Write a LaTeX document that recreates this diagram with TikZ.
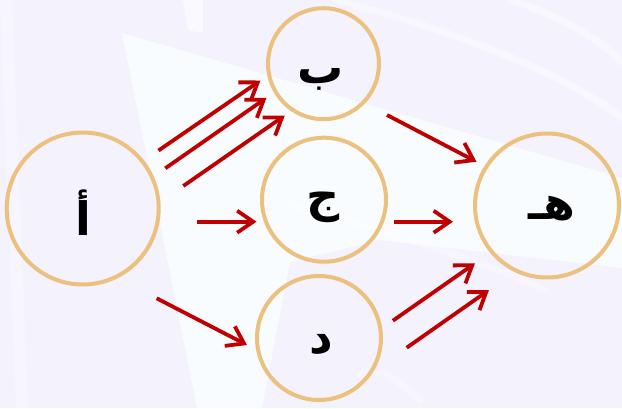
\documentclass[tikz,border=0pt]{standalone}
\usepackage{fontspec}
\usetikzlibrary{arrows.meta}
\TeXXeTstate=1
\newfontfamily\arabicfont[Script=Arabic]{DejaVu Sans}
\definecolor{bglav}{HTML}{F4F2FD}
\definecolor{bglight}{HTML}{F8FCFE}
\definecolor{ringcol}{HTML}{ECC07F}
\definecolor{arrcol}{HTML}{C00000}
\tikzset{
  ring/.style={circle, draw=ringcol, line width=4pt, inner sep=0pt},
  lbl/.style={font=\arabicfont\bfseries\fontsize{46}{52}\selectfont, inner sep=0pt, text=black},
  flow/.style={draw=arrcol, line width=3.8pt, -{Straight Barb[length=16pt,width=22pt]}},
  wband/.style={draw=white, line width=7pt, opacity=0.45, line cap=round}
}
\begin{document}
\begin{tikzpicture}[x=1pt,y=-1pt]
\useasboundingbox (0,0) rectangle (622,408);
% background
\fill[bglav] (0,0) rectangle (622,408);
\fill[bglight] (122,33) -- (622,178) -- (622,268) -- (380,240) -- (290,262) -- (262,408) -- (197,408) -- cycle;
\fill[white, opacity=0.3] (0,0) -- (12,0) -- (28,408) -- (16,408) -- cycle;
\fill[white, opacity=0.6] (183,0) -- (203,0) -- (203,33) -- (188,30) -- cycle;
\draw[wband] (335,0) .. controls (450,30) and (560,70) .. (622,118);
\draw[wband] (510,0) .. controls (560,15) and (600,40) .. (622,62);
\draw[wband, opacity=0.3] (290,205) .. controls (400,235) and (480,260) .. (545,290);
\draw[wband, opacity=0.3] (360,375) .. controls (380,360) and (400,385) .. (420,400);
% circles
\node[ring, minimum size=152pt] (A) at (82.7,208.5) {};
\node[ring, minimum size=111pt] (B) at (323.5,63.7) {};
\node[ring, minimum size=124pt] (C) at (324,199.7) {};
\node[ring, minimum size=124pt] (D) at (319,338) {};
\node[ring, minimum size=144pt] (E) at (547,205.5) {};
% labels
\node[lbl] (lA) at (83,213) {\beginR أ\endR};
\node[lbl] (lB) at (321,79) {\beginR ب\endR};
\node[lbl] (lC) at (323,207) {\beginR ج\endR};
\node[lbl] (lD) at (321,345) {\beginR د\endR};
\node[lbl] (lE) at (552,209) {\beginR هـ\endR};
% arrow end points
\coordinate (ab1s) at (158.5,150.5); \coordinate (ab1e) at (260.5,80.5);
\coordinate (ab2s) at (165.3,168.3); \coordinate (ab2e) at (266.5,97.8);
\coordinate (ab3s) at (183.3,186);   \coordinate (ab3e) at (284.8,115.5);
\coordinate (acs) at (197,221.7);    \coordinate (ace) at (256.5,221.7);
\coordinate (ads) at (156.7,298.3);  \coordinate (ade) at (247,345);
\coordinate (bes) at (387,115);      \coordinate (bee) at (476.5,161.7);
\coordinate (ces) at (394,221.7);    \coordinate (cee) at (453,221.7);
\coordinate (de1s) at (392.9,320.7); \coordinate (de1e) at (475,263.3);
\coordinate (de2s) at (406.7,347.7); \coordinate (de2e) at (489,290);
% arrows
\draw[flow] (ab1s) -- (ab1e);
\draw[flow] (ab2s) -- (ab2e);
\draw[flow] (ab3s) -- (ab3e);
\draw[flow] (acs) -- (ace);
\draw[flow] (ads) -- (ade);
\draw[flow] (bes) -- (bee);
\draw[flow] (ces) -- (cee);
\draw[flow] (de1s) -- (de1e);
\draw[flow] (de2s) -- (de2e);
\end{tikzpicture}
\end{document}
